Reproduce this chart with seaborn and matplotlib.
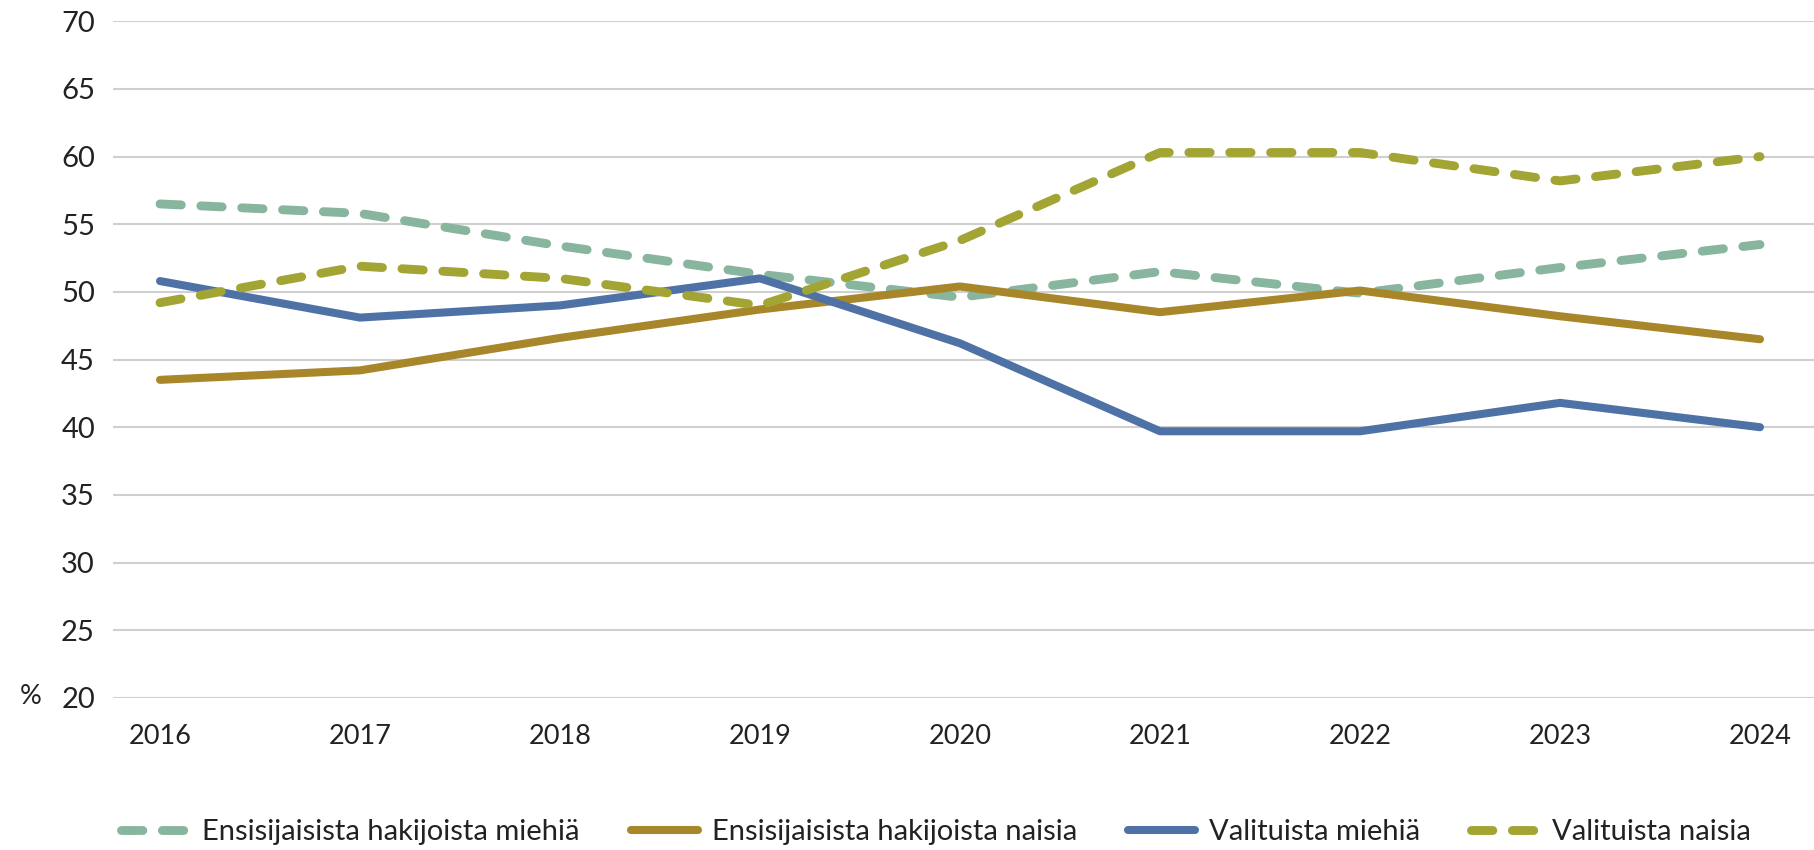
import pandas as pd
import numpy as np
import matplotlib
matplotlib.use("Agg")
import matplotlib.pyplot as plt
import seaborn as sns

# data (%)
years = [2016, 2017, 2018, 2019, 2020, 2021, 2022, 2023, 2024]
men_applicants = [56.5, 55.8, 53.4, 51.3, 49.6, 51.5, 49.9, 51.8, 53.5]
women_applicants = [43.5, 44.2, 46.6, 48.7, 50.4, 48.5, 50.1, 48.2, 46.5]
men_selected = [50.8, 48.1, 49.0, 51.0, 46.2, 39.7, 39.7, 41.8, 40.0]
women_selected = [49.2, 51.9, 51.0, 49.0, 53.8, 60.3, 60.3, 58.2, 60.0]

labels = ["Ensisijaisista hakijoista miehiä", "Ensisijaisista hakijoista naisia",
          "Valituista miehiä", "Valituista naisia"]
colors = ["#88B59E", "#A8872B", "#4E71A6", "#A2A433"]
dashed = [True, False, False, True]

sns.set_theme(style="white")
plt.rcParams["font.family"] = ["Lato", "DejaVu Sans"]

fig = plt.figure(figsize=(18.14, 8.5), dpi=100)
ax = fig.add_axes([0.0623, 0.179, 0.9377, 0.796])

series = [men_applicants, women_applicants, men_selected, women_selected]
for vals, lab, col, dash in zip(series, labels, colors, dashed):
    df = pd.DataFrame({"year": years, "value": vals})
    sns.lineplot(data=df, x="year", y="value", ax=ax, color=col,
                 lw=6.4 if dash else 5.8, label=lab, solid_capstyle="round")
    l = ax.lines[-1]
    if dash:
        l.set_dashes((2.4, 2.2))
        l.set_dash_capstyle("round")

ax.set_ylim(20, 70)
ax.set_yticks(np.arange(20, 71, 5))
ax.set_xlim(2015.765, 2024.27)
ax.set_xticks(years)
ax.set_xticklabels([str(y) for y in years])
ax.grid(axis="y", color="#D0D0D0", lw=1.5)
ax.set_axisbelow(True)
for s in ax.spines.values():
    s.set_visible(False)
ax.tick_params(axis="y", labelsize=21, length=0, pad=13, colors="#222222")
ax.tick_params(axis="x", labelsize=19.5, length=0, pad=19, colors="#222222")
ax.set_xlabel("")
ax.set_ylabel("")
fig.text(20 / 1814, 1 - 697 / 850, "%", fontsize=19.5, color="#222222",
         ha="left", va="center")

ax.legend_.remove()
handles, labs = ax.get_legend_handles_labels()
fig.legend(handles, labs, loc="center", bbox_to_anchor=(0.516, 0.021),
           ncol=4, frameon=False, fontsize=21, handlelength=2.3,
           columnspacing=1.75, handletextpad=0.48, labelcolor="#222222")

fig.savefig("out.png", dpi=100)
